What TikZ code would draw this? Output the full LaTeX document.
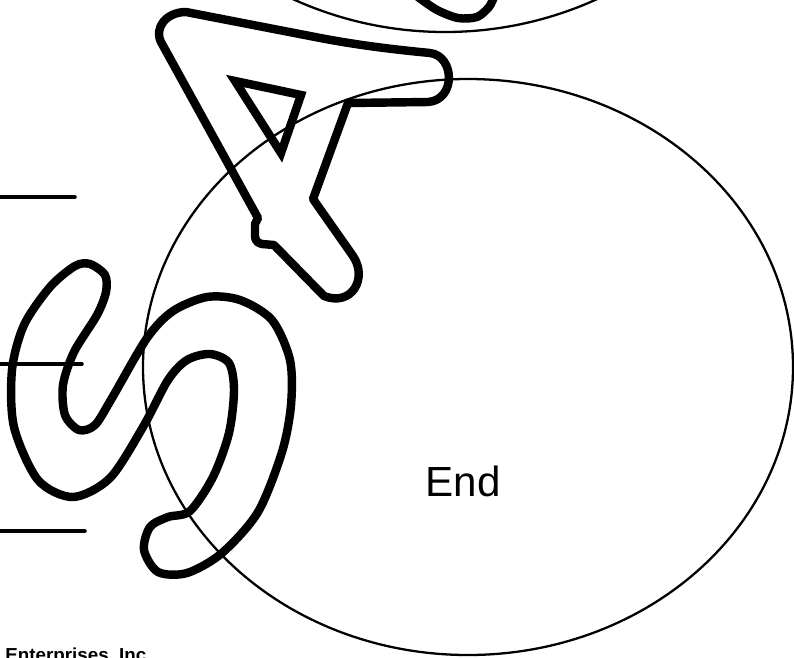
\documentclass[tikz,border=0pt]{standalone}
\usepackage{fontspec}
\setmainfont{Liberation Sans}
\usepackage{tikz}

\begin{document}
\begin{tikzpicture}[
  x=0.02cm, y=-0.02cm,
  thinline/.style={line width=1.3pt},
  stub/.style={line width=2pt,line cap=round},
  logo/.style={line width=4.8pt,line join=round,line cap=round},
  endtext/.style={inner sep=0pt,font=\fontsize{24}{28}\selectfont},
  firm/.style={inner sep=0pt,anchor=base west,font=\bfseries\fontsize{10.7}{12}\selectfont}
]
  \useasboundingbox (0,0) rectangle (794,657);
  \clip (0,0) rectangle (794,657);

  \draw[thinline] (445,-335) circle [radius=367];
  \draw[thinline] (468,367) ellipse [x radius=325, y radius=288];

  \draw[stub] (0,197) -- (75,197);
  \draw[stub] (0,364) -- (82,364);
  \draw[stub] (0,531) -- (85,531);

  \draw[logo] plot[smooth] coordinates {(418,-3) (437,10) (458,18) (477,17) (489,7) (494,-3)};

  \draw[logo] (258,218) -- (161,42) .. controls (154,28) and (166,12) .. (186,12)
    -- (310,36) .. controls (360,46) and (400,50) .. (430,53)
    .. controls (455,56) and (456,100) .. (428,102) -- (348,103)
    -- (313,199) -- (353,256) .. controls (368,278) and (352,307) .. (324,296)
    -- (274,245) -- (262,244) .. controls (254,242) and (255,237) .. (255,232)
    -- (255,224) -- cycle;
  \draw[logo,line join=miter] (235,81) -- (301,95) -- (281,153) -- cycle;

  \draw[logo] plot[smooth cycle] coordinates {
    (90,264) (105,275) (106,292) (97,315) (74,352) (63,385) (65,415) (79,430)
    (95,425) (112,398) (147,338) (173,311) (207,297) (240,300) (272,320)
    (290,360) (291,405) (282,452) (258,512) (222,553) (187,573) (158,572)
    (144,550) (150,527) (168,517) (190,511) (213,477) (229,433) (234,390)
    (229,363) (210,354) (187,360) (168,380) (143,427) (110,478) (73,497)
    (38,480) (14,427) (12,370) (24,325) (50,287) (75,266)};

  \node[endtext] (end) at (463,481) {End};
  \node[firm] (firm) at (5,661) {Enterprises, Inc};
\end{tikzpicture}
\end{document}
